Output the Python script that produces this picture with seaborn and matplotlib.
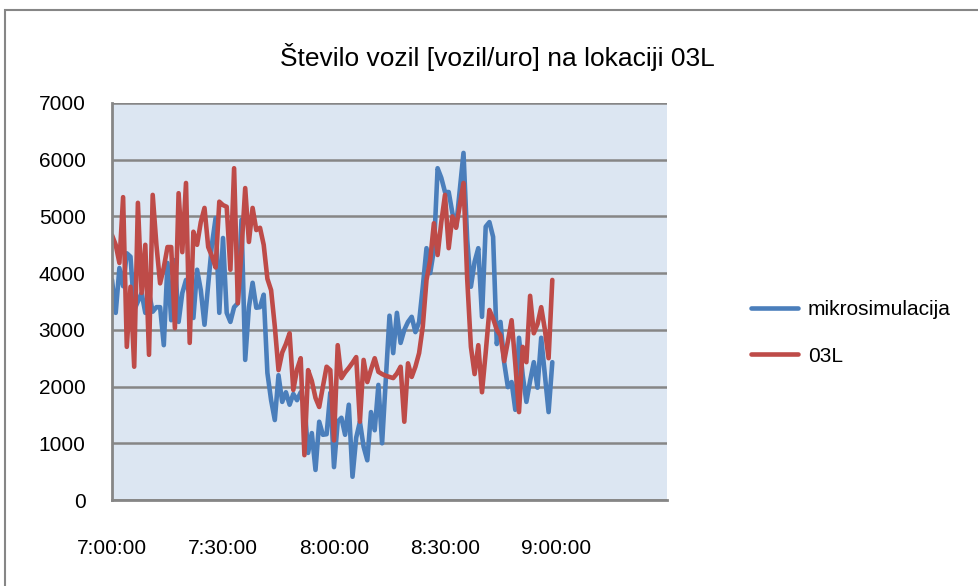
import numpy as np
import pandas as pd
import matplotlib.pyplot as plt
import seaborn as sns
from matplotlib.patches import Rectangle

# Podatki: minute od 7:00:00 naprej, 1-minutni intervali
minute = list(range(120))

mikrosimulacija = [
    3880, 3300, 4090, 3770, 4350, 4290, 3350, 3500, 3650, 3300,
    3650, 3320, 3400, 3400, 2730, 4180, 3170, 4230, 3140, 3650,
    3880, 3600, 3210, 4060, 3700, 3090, 3800, 4500, 4970, 3300,
    4620, 3300, 3140, 3400, 3470, 4940, 2470, 3400, 3830, 3390,
    3400, 3620, 2240, 1760, 1410, 2200, 1730, 1900, 1680, 1870,
    1760, 1900, 1700, 830, 1180, 530, 1380, 1150, 1160, 1890,
    580, 1380, 1450, 1150, 1680, 410, 1100, 1380, 940, 700,
    1550, 1230, 2030, 1000, 2120, 3250, 2590, 3300, 2770, 3000,
    3140, 3230, 2960, 3140, 3760, 4440, 4000, 4410, 5850, 5680,
    5430, 5430, 5060, 4820, 5470, 6120, 4590, 3760, 4200, 4440,
    3230, 4820, 4900, 4640, 2750, 3140, 2420, 1990, 2080, 1590,
    2860, 2200, 1730, 2100, 2430, 1980, 2860, 2200, 1550, 2430,
]

lokacija_03L = [
    4670, 4500, 4180, 5340, 2700, 3760, 2350, 5240, 3650, 4500,
    2560, 5380, 4500, 3820, 4100, 4460, 4460, 3030, 5410, 4370,
    5590, 2770, 4730, 4500, 4900, 5150, 4460, 4300, 4100, 5260,
    5200, 5170, 4060, 5850, 3470, 4400, 5500, 4550, 5150, 4760,
    4800, 4500, 3900, 3700, 3060, 2290, 2600, 2750, 2940, 1940,
    2300, 2500, 790, 2290, 2100, 1800, 1640, 2000, 2350, 2290,
    1050, 2730, 2150, 2250, 2330, 2420, 2520, 1380, 2470, 2080,
    2300, 2500, 2260, 2220, 2190, 2170, 2150, 2230, 2350, 1380,
    2410, 2170, 2350, 2590, 3060, 3880, 4230, 4880, 4320, 4900,
    5380, 4440, 5000, 4800, 5200, 5590, 3900, 2700, 2220, 2730,
    1900, 2600, 3350, 3200, 3000, 2900, 2450, 2800, 3170, 2400,
    1550, 2700, 2430, 3600, 2940, 3100, 3400, 3000, 2500, 3880,
]

serije = ['mikrosimulacija', '03L']
barve = ['#4A7EBB', '#BE4B48']
x_ticks = [0, 30, 60, 90, 120]
x_labels = ['7:00:00', '7:30:00', '8:00:00', '8:30:00', '9:00:00']
y_ticks = list(range(0, 8000, 1000))

df = pd.DataFrame({
    'minuta': minute + minute,
    'vozil': mikrosimulacija + lokacija_03L,
    'serija': [serije[0]] * len(minute) + [serije[1]] * len(minute),
})

sns.set_style('white')
plt.rcParams['font.family'] = ['Liberation Sans', 'DejaVu Sans']
plt.rcParams['text.color'] = 'black'

fig = plt.figure(figsize=(9.79, 5.86), dpi=100)
ax = fig.add_axes([112 / 979, 1 - 500 / 586, 555 / 979, 397 / 586])

sns.lineplot(data=df, x='minuta', y='vozil', hue='serija', hue_order=serije,
             palette=barve, linewidth=3.3, ax=ax, legend=False,
             solid_joinstyle='round', solid_capstyle='round')

ax.set_facecolor('#DCE6F2')
ax.set_xlim(0, 150)
ax.set_ylim(0, 7000)
ax.set_xticks(x_ticks)
ax.set_xticklabels(x_labels)
ax.set_yticks(y_ticks)
ax.set_xlabel('')
ax.set_ylabel('')

ax.set_axisbelow(True)
ax.yaxis.grid(True, color='#868686', linewidth=1.8)
ax.xaxis.grid(False)
for s in ['top', 'right']:
    ax.spines[s].set_visible(False)
for s in ['left', 'bottom']:
    ax.spines[s].set_color('#868686')
    ax.spines[s].set_linewidth(2)

ax.tick_params(axis='both', direction='out', length=6, width=1,
               color='#868686', labelsize=15, labelcolor='black')
ax.tick_params(axis='y', pad=13)
ax.tick_params(axis='x', pad=22)

fig.suptitle('Število vozil [vozil/uro] na lokaciji 03L', fontsize=19,
             x=497 / 979, y=1 - 57 / 586, va='center', color='black')

fig.legend(handles=ax.lines[:2], labels=serije, loc='center left',
           bbox_to_anchor=(732 / 979, 1 - 333 / 586), frameon=False,
           fontsize=15, handlelength=2.25, labelspacing=1.3, handletextpad=0.5,
           labelcolor='black')

# okvir grafikona
fig.patches.append(Rectangle((5 / 979, -0.1), 1.2, 1 - 10 / 586 + 0.1,
                             transform=fig.transFigure, fill=False,
                             edgecolor='#868686', linewidth=1.5))

fig.savefig('out.png', dpi=100)
